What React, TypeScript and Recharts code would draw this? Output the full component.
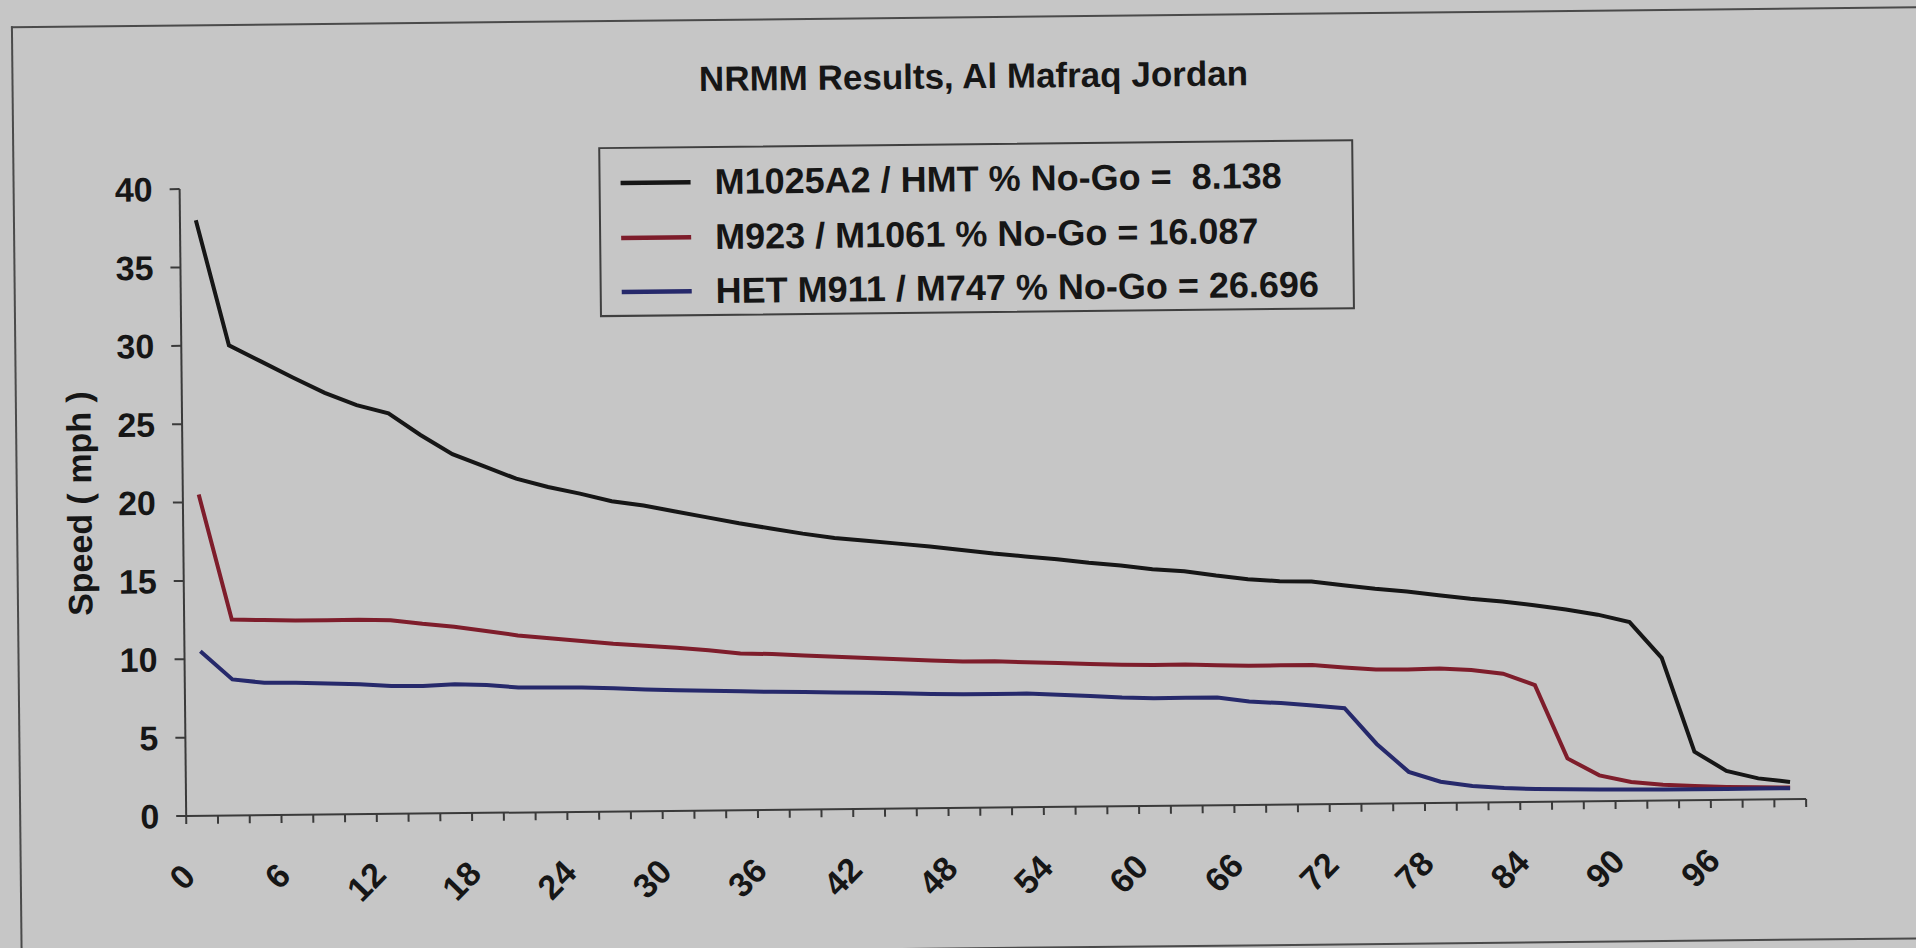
import React from 'react';
import { LineChart, Line, XAxis, YAxis, Legend } from 'recharts';

// Percent-of-terrain categories (one point per category, plotted mid-category)
const PCT = [
  0, 2, 4, 6, 8, 10, 12, 14, 16, 18, 20, 22, 24, 26, 28, 30, 32, 34, 36, 38,
  40, 42, 44, 46, 48, 50, 52, 54, 56, 58, 60, 62, 64, 66, 68, 70, 72, 74, 76, 78,
  80, 82, 84, 86, 88, 90, 92, 94, 96, 98, 100,
];

// Speed (mph)
const M1025A2_HMT = [
  38.0, 30.0, 28.95, 27.9, 26.9, 26.1, 25.55, 24.15, 22.9, 22.1, 21.3, 20.75, 20.3, 19.8,
  19.5, 19.1, 18.7, 18.3, 17.95, 17.6, 17.3, 17.1, 16.9, 16.7, 16.45, 16.2, 16.0, 15.8,
  15.55, 15.35, 15.1, 14.95, 14.65, 14.4, 14.25, 14.2, 13.95, 13.7, 13.5, 13.25, 13.0,
  12.8, 12.55, 12.25, 11.9, 11.4, 9.1, 3.1, 1.85, 1.35, 1.1,
];
const M923_M1061 = [
  20.5, 12.5, 12.45, 12.4, 12.4, 12.4, 12.35, 12.1, 11.9, 11.6, 11.3, 11.1, 10.9, 10.7,
  10.55, 10.4, 10.22, 10.0, 9.94, 9.83, 9.73, 9.62, 9.52, 9.42, 9.34, 9.33, 9.25, 9.17,
  9.1, 9.03, 8.98, 9.0, 8.92, 8.88, 8.88, 8.88, 8.7, 8.55, 8.53, 8.57, 8.45, 8.2, 7.45,
  2.75, 1.65, 1.2, 1.0, 0.9, 0.82, 0.78, 0.75,
];
const HET_M911_M747 = [
  10.5, 8.68, 8.45, 8.43, 8.36, 8.29, 8.16, 8.14, 8.22, 8.15, 7.98, 7.96, 7.93, 7.86,
  7.76, 7.7, 7.64, 7.58, 7.53, 7.49, 7.45, 7.4, 7.35, 7.28, 7.25, 7.25, 7.25, 7.15, 7.05,
  6.93, 6.87, 6.87, 6.87, 6.6, 6.47, 6.3, 6.1, 3.8, 2.0, 1.35, 1.05, 0.9, 0.82, 0.78,
  0.75, 0.72, 0.7, 0.7, 0.7, 0.7, 0.7,
];

const SERIES_NAMES = [
  'M1025A2 / HMT % No-Go =  8.138',
  'M923 / M1061 % No-Go = 16.087',
  'HET M911 / M747 % No-Go = 26.696',
];
const SERIES_COLORS = ['#161616', '#7e1d2b', '#26296b'];

const TITLE = 'NRMM Results, Al Mafraq Jordan';
const Y_LABEL = 'Speed ( mph )';
const Y_TICKS = [0, 5, 10, 15, 20, 25, 30, 35, 40];
const X_LABEL_STEP = 6;
const X_LABEL_MAX = 96;
// category boundaries (tick marks sit between categories)
const X_BOUNDARIES = [...PCT.map((p) => p - 1), PCT[PCT.length - 1] + 1];

const data = PCT.map((p, i) => ({
  pct: p,
  a: M1025A2_HMT[i],
  b: M923_M1061[i],
  c: HET_M911_M747[i],
}));

const FONT = "'Liberation Sans', Arial, Helvetica, sans-serif";
const INK = '#161616';
const BG = '#c6c6c6';

const XTick = (props: any) => {
  const { x, y, payload } = props;
  const v = Math.round(payload.value + 1);
  if (v % X_LABEL_STEP !== 0 || v > X_LABEL_MAX) return <g />;
  const ax = x + 2;
  const ay = y + 44;
  return (
    <text
      x={ax}
      y={ay}
      transform={`rotate(-45, ${ax}, ${ay})`}
      textAnchor="end"
      dominantBaseline="central"
      fontFamily={FONT}
      fontWeight={700}
      fontSize={34}
      fill={INK}
    >
      {v}
    </text>
  );
};

const YLabel = (props: any) => {
  const vb = props.viewBox || { x: 60, y: 180, width: 123, height: 627 };
  const cx = vb.x + 19.5;
  const cy = vb.y + vb.height / 2;
  return (
    <text
      x={cx}
      y={cy}
      transform={`rotate(-90, ${cx}, ${cy})`}
      textAnchor="middle"
      dominantBaseline="central"
      fontFamily={FONT}
      fontWeight={700}
      fontSize={34}
      fill={INK}
    >
      {Y_LABEL}
    </text>
  );
};

const renderLegend = (props: any) => {
  const payload = [...(props.payload || [])].sort(
    (p: any, q: any) => SERIES_NAMES.indexOf(p.value) - SERIES_NAMES.indexOf(q.value)
  );
  return (
    <div
      style={{
        width: 755,
        height: 170,
        boxSizing: 'border-box',
        border: '2px solid #3f3f3f',
        paddingTop: 7,
        fontFamily: FONT,
        fontWeight: 700,
        fontSize: 36,
        color: INK,
      }}
    >
      {payload.map((entry: any, idx: number) => (
        <div
          key={idx}
          style={{ display: 'flex', alignItems: 'center', height: 54.4 }}
        >
          <svg width={114} height={12} style={{ flex: 'none' }}>
            <line x1={20} y1={6} x2={90} y2={6} stroke={entry.color} strokeWidth={4.5} />
          </svg>
          <span style={{ whiteSpace: 'pre', lineHeight: 1 }}>{entry.value}</span>
        </div>
      ))}
    </div>
  );
};

export default function App() {
  return (
    <div
      style={{
        position: 'fixed',
        left: 0,
        top: 0,
        width: 1916,
        height: 948,
        overflow: 'hidden',
        background: BG,
      }}
    >
      <div
        style={{
          position: 'absolute',
          left: 0,
          top: 0,
          width: 1916,
          height: 948,
          transform: 'rotate(-0.6deg)',
          transformOrigin: '996px 507px',
        }}
      >
        <div
          style={{
            position: 'absolute',
            left: 16,
            top: 16,
            width: 2000,
            height: 933,
            boxSizing: 'border-box',
            borderLeft: '2px solid #4a4a4a',
            borderTop: '2px solid #4a4a4a',
            borderBottom: '2px solid #4a4a4a',
          }}
        />
        <div
          style={{
            position: 'absolute',
            left: 978,
            top: 76,
            transform: 'translate(-50%, -50%)',
            whiteSpace: 'nowrap',
            fontFamily: FONT,
            fontWeight: 700,
            fontSize: 35,
            color: INK,
          }}
        >
          {TITLE}
        </div>
        <div style={{ position: 'absolute', left: 0, top: 0 }}>
          <LineChart
            width={1916}
            height={948}
            data={data}
            margin={{ top: 180.5, right: 113, bottom: 40.5, left: 60 }}
          >
            <XAxis
              dataKey="pct"
              type="number"
              domain={[X_BOUNDARIES[0], X_BOUNDARIES[X_BOUNDARIES.length - 1]]}
              ticks={X_BOUNDARIES}
              interval={0}
              height={100}
              tickSize={8}
              tickMargin={2}
              axisLine={{ stroke: '#3a3a3a', strokeWidth: 2 }}
              tickLine={{ stroke: '#3a3a3a', strokeWidth: 2 }}
              tick={<XTick />}
              allowDataOverflow
            />
            <YAxis
              type="number"
              domain={[0, 40]}
              ticks={Y_TICKS}
              interval={0}
              width={123}
              tickSize={10}
              tickMargin={17}
              axisLine={{ stroke: '#3a3a3a', strokeWidth: 2 }}
              tickLine={{ stroke: '#3a3a3a', strokeWidth: 2 }}
              tick={{ fontSize: 34, fontWeight: 700, fill: INK, fontFamily: FONT }}
              label={(p: any) => <YLabel {...p} />}
              allowDataOverflow
            />
            <Legend
              layout="vertical"
              align="center"
              verticalAlign="middle"
              wrapperStyle={{ left: 602, top: 143, width: 755, height: 170 }}
              content={renderLegend}
            />
            <Line
              type="linear"
              dataKey="a"
              name={SERIES_NAMES[0]}
              stroke={SERIES_COLORS[0]}
              strokeWidth={4}
              dot={false}
              activeDot={false}
              isAnimationActive={false}
            />
            <Line
              type="linear"
              dataKey="b"
              name={SERIES_NAMES[1]}
              stroke={SERIES_COLORS[1]}
              strokeWidth={4}
              dot={false}
              activeDot={false}
              isAnimationActive={false}
            />
            <Line
              type="linear"
              dataKey="c"
              name={SERIES_NAMES[2]}
              stroke={SERIES_COLORS[2]}
              strokeWidth={4}
              dot={false}
              activeDot={false}
              isAnimationActive={false}
            />
          </LineChart>
        </div>
      </div>
    </div>
  );
}
